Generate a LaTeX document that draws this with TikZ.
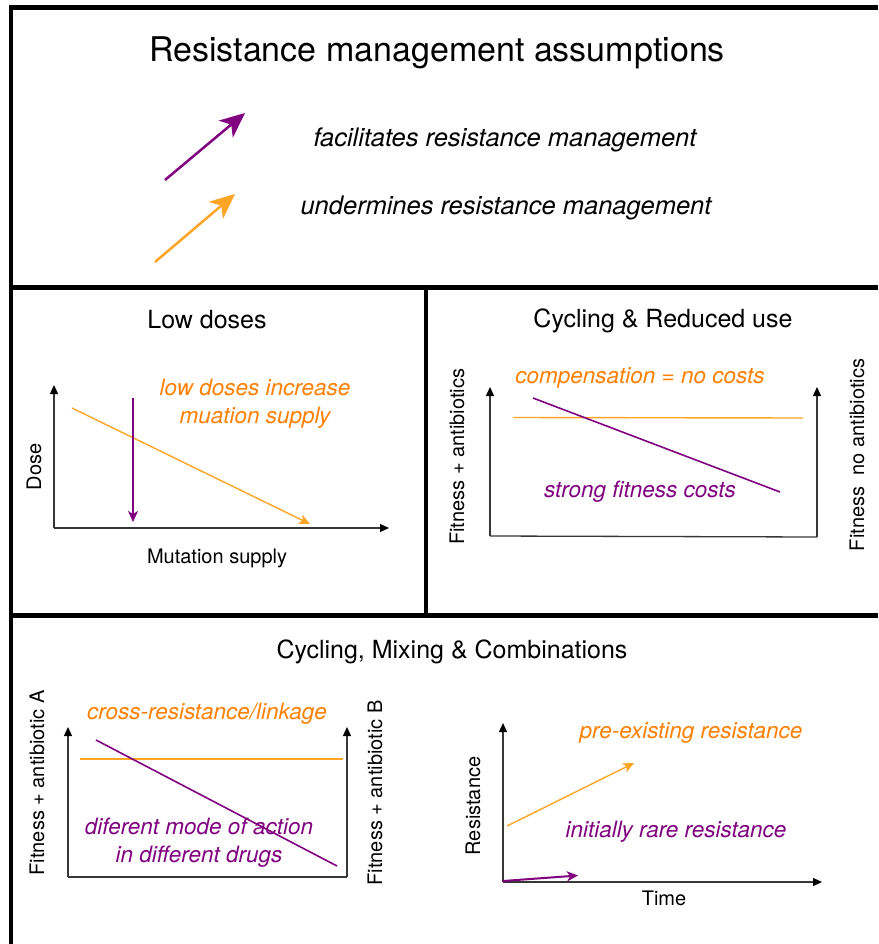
\documentclass[tikz,border=0pt]{standalone}
\usepackage{fontspec}
\setmainfont{TeX Gyre Heros}
\usetikzlibrary{arrows.meta}
\definecolor{pur}{RGB}{128,0,128}
\definecolor{orT}{RGB}{255,128,0}
\definecolor{orL}{RGB}{255,165,38}
\definecolor{axc}{RGB}{55,55,55}
\begin{document}
\begin{tikzpicture}[x=1pt,y=-1pt,
  frame/.style={line width=4.5pt,black},
  axisline/.style={line width=1.3pt,axc},
  axis/.style={axisline,-{Triangle[length=9pt,width=8pt,color=black]}},
  legpur/.style={line width=2.5pt,pur,-{Stealth[length=25pt,width=22pt,inset=7pt]}},
  legor/.style={line width=2.5pt,orL,-{Stealth[length=25pt,width=22pt,inset=7pt]}},
  plotpur/.style={line width=1.6pt,pur},
  plotor/.style={line width=1.4pt,orL},
  arrpur/.style={plotpur,-{Stealth[length=11pt,width=10pt,inset=3pt]}},
  arror/.style={plotor,-{Stealth[length=11pt,width=10pt,inset=3pt]}},
  bigtitle/.style={font=\fontsize{34}{40}\selectfont,anchor=base},
  legtext/.style={font=\fontsize{25.5}{30}\selectfont\itshape,anchor=base},
  paneltitle/.style={font=\fontsize{25}{30}\selectfont,anchor=base},
  axlabel/.style={font=\fontsize{20}{24}\selectfont},
  note/.style={font=\fontsize{22.5}{28}\selectfont\itshape,anchor=base,align=center},
]
\useasboundingbox (0,0) rectangle (878,944);
\fill[white] (0,0) rectangle (878,944);

% frame
\coordinate (fTL) at (8.75,7.5);
\coordinate (fTR) at (878,7.5);
\coordinate (fL0) at (11,5);
\coordinate (fLB) at (11,944);
\coordinate (h1L) at (11,287.5);
\coordinate (h1R) at (878,287.5);
\coordinate (vT) at (426,287.5);
\coordinate (vB) at (426,615.5);
\coordinate (h2L) at (11,615.5);
\coordinate (h2R) at (878,615.5);
\draw[frame] (fTL) -- (fTR);
\draw[frame] (fL0) -- (fLB);
\draw[frame] (h1L) -- (h1R);
\draw[frame] (vT) -- (vB);
\draw[frame] (h2L) -- (h2R);

% legend
\node[bigtitle] (title) at (437,62) {Resistance management assumptions};
\coordinate (pa1) at (165,180);
\coordinate (pa2) at (245,113);
\draw[legpur] (pa1) -- (pa2);
\node[legtext] (ltxt1) at (505,147) {facilitates resistance management};
\coordinate (oa1) at (155,262);
\coordinate (oa2) at (235,194);
\draw[legor] (oa1) -- (oa2);
\node[legtext] (ltxt2) at (506,214) {undermines resistance management};

% Low doses
\node[paneltitle] (t1) at (207,328) {Low doses};
\coordinate (o1) at (54,528);
\coordinate (y1) at (54,385);
\coordinate (x1) at (389,528);
\draw[axis] (o1) -- (y1);
\draw[axis] (o1) -- (x1);
\node[axlabel,rotate=90] (dose) at (34,467) {Dose};
\node[axlabel,anchor=base] (mut) at (217,563) {Mutation supply};
\coordinate (lo1) at (72,408);
\coordinate (lo2) at (310,524);
\draw[arror] (lo1) -- (lo2);
\coordinate (lp1) at (133,398);
\coordinate (lp2) at (133,522);
\draw[arrpur] (lp1) -- (lp2);
\node[note,text=orT] (n1) at (255,423) {low doses increase\\muation supply};

% Cycling & Reduced use
\node[paneltitle] (t2) at (663,327) {Cycling \& Reduced use};
\coordinate (o2) at (490,536);
\coordinate (y2) at (490,387);
\coordinate (r2) at (817,537);
\coordinate (yr2) at (817,387);
\draw[axis] (o2) -- (y2);
\draw[axisline] (o2) -- (r2);
\draw[axis] (r2) -- (yr2);
\node[axlabel,rotate=90] (fa) at (457,457) {Fitness + antibiotics};
\node[axlabel,rotate=90] (fn) at (857,455) {Fitness\ \ no antibiotics};
\coordinate (c2o1) at (513,417.5);
\coordinate (c2o2) at (803,418);
\draw[plotor] (c2o1) -- (c2o2);
\coordinate (c2p1) at (533,398);
\coordinate (c2p2) at (780,492);
\draw[plotpur] (c2p1) -- (c2p2);
\node[note,text=orT] (n2) at (640,383) {compensation = no costs};
\node[note,text=pur] (n3) at (640,497) {strong fitness costs};

% Cycling, Mixing & Combinations
\node[paneltitle] (t3) at (452,658) {Cycling, Mixing \& Combinations};
\coordinate (o3) at (68,877);
\coordinate (y3) at (68,727);
\coordinate (r3) at (347,877);
\coordinate (yr3) at (347,727);
\draw[axis] (o3) -- (y3);
\draw[axisline] (o3) -- (r3);
\draw[axis] (r3) -- (yr3);
\node[axlabel,rotate=90] (fA) at (37,783) {Fitness + antibiotic A};
\node[axlabel,rotate=90] (fB) at (375,793) {Fitness + antibiotic B};
\coordinate (c3o1) at (80,759);
\coordinate (c3o2) at (343,759);
\draw[plotor] (c3o1) -- (c3o2);
\coordinate (c3p1) at (96,740);
\coordinate (c3p2) at (337,866);
\draw[plotpur] (c3p1) -- (c3p2);
\node[note,text=orT] (n4) at (207,719) {cross-resistance/linkage};
\node[note,text=pur] (n5) at (199,862) {diferent mode of action\\in different drugs};

\coordinate (o4) at (503,882);
\coordinate (y4) at (503,723);
\coordinate (x4) at (822,882);
\draw[axis] (o4) -- (y4);
\draw[axis] (o4) -- (x4);
\node[axlabel,rotate=90] (res) at (473,806) {Resistance};
\node[axlabel,anchor=base] (time) at (664,905) {Time};
\coordinate (ro1) at (507,826);
\coordinate (ro2) at (634,763);
\draw[arror] (ro1) -- (ro2);
\coordinate (rp1) at (503,881);
\coordinate (rp2) at (578,875.5);
\draw[arrpur,line width=2pt] (rp1) -- (rp2);
\node[note,text=orT] (n6) at (691,738) {pre-existing resistance};
\node[note,text=pur] (n7) at (676,837) {initially rare resistance};
\end{tikzpicture}
\end{document}
